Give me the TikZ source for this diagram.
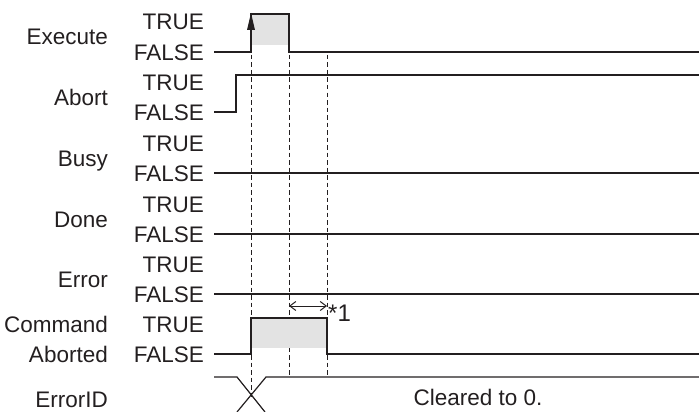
\documentclass[tikz,border=0pt]{standalone}
\usepackage{fontspec}
\setmainfont{Liberation Sans}
\usetikzlibrary{calc, positioning}
\usetikzlibrary{arrows.meta}

\definecolor{ink}{RGB}{35,31,32}
\tikzset{
  sig/.style={draw=ink, line width=1.5pt, line join=miter},
  guide/.style={draw=ink, line width=0.8pt, dash pattern=on 4.5pt off 3pt},
  lvl/.style={anchor=base east, inner sep=0pt, text=ink, font=\fontsize{22.5}{26}\selectfont},
  sigtxt/.style={anchor=base east, inner sep=0pt, text=ink, font=\fontsize{22.5}{26}\selectfont},
  active/.style={fill=black!11}
}

\begin{document}
\begin{tikzpicture}[x=1pt, y=-1pt]
\useasboundingbox (0,0) rectangle (699,412);
\def\xs{214}
\def\xa{251}
\def\xb{289}
\def\xc{327}
\def\xe{699}

% signal names and levels
\foreach \f/\name [count=\i] in {52/Execute, 112/Abort, 173/Busy, 234/Done, 294/Error}{
  \node[sigtxt] (n\i) at (108,\f-7) {\name};
  \node[lvl] (t\i) at (204,\f-22) {TRUE};
  \node[lvl] (f\i) at (204,\f+8) {FALSE};
}
\node[sigtxt] (n6a) at (108,332) {Command};
\node[sigtxt] (n6b) at (108,362) {Aborted};
\node[lvl] (t6) at (204,332) {TRUE};
\node[lvl] (f6) at (204,362) {FALSE};
\node[sigtxt] (n7) at (108,407) {ErrorID};

% timing guides
\draw[guide] (\xa,55) -- (\xa,400);
\draw[guide] (\xb,55) -- (\xb,377);
\draw[guide] (\xc,55) -- (\xc,377);

% Execute
\fill[active] (\xa,14) rectangle (\xb,45);
\draw[sig] (\xs,52) -- (\xa,52) -- (\xa,14) -- (\xb,14) -- (\xb,52) -- (\xe,52);
\fill[ink] (\xa,13) -- (\xa-4,30) -- (\xa+4,30) -- cycle;

% Abort
\draw[sig] (\xs,112) -- (236,112) -- (236,75) -- (\xe,75);

% Busy, Done, Error
\foreach \f in {173, 234, 294}
  \draw[sig] (\xs,\f) -- (\xe,\f);

% CommandAborted
\fill[active] (\xa,318) rectangle (\xc,348);
\draw[sig] (\xs,354) -- (\xa,354) -- (\xa,318) -- (\xc,318) -- (\xc,354) -- (\xe,354);

\coordinate (d1) at (\xb,306);
\coordinate (d2) at (\xc,306);
\draw[draw=ink, line width=1pt, {Straight Barb[length=6pt, width=9pt]}-{Straight Barb[length=6pt, width=9pt]}] (d1) -- (d2);
\node[anchor=base west, inner sep=0pt, text=ink, font=\fontsize{24}{26}\selectfont] (note) at (328,321) {*1};

% ErrorID
\draw[draw=ink, line width=1.2pt] (\xs,377) -- (237,377) -- (265,412);
\draw[draw=ink, line width=1.2pt] (237,412) -- (266,377) -- (\xe,377);
\node[anchor=base, inner sep=0pt, text=ink, font=\fontsize{22.5}{26}\selectfont] (clr) at (478,405) {Cleared to 0.};
\end{tikzpicture}
\end{document}
